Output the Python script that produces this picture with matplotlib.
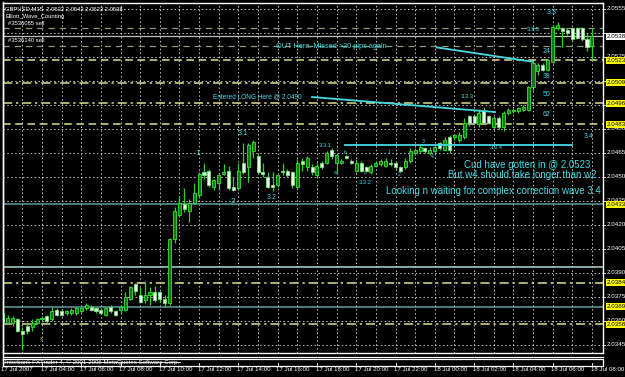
import matplotlib
matplotlib.use("Agg")
import matplotlib.pyplot as plt
from matplotlib.transforms import blended_transform_factory
import numpy as np

plt.rcParams['font.family'] = ['Liberation Sans', 'DejaVu Sans']

# ---------------- data (GBPUSD M15, 17 Jul 02:00 -> 18 Jul 08:00) ----------------
opens = [2.0365, 2.0359, 2.0359, 2.0361, 2.0354, 2.0357, 2.0356, 2.0359, 2.0361, 2.0363,
         2.0361, 2.0367, 2.0366, 2.0365, 2.0365, 2.0365, 2.0366, 2.0368, 2.0369, 2.0368,
         2.0367, 2.0364, 2.0369, 2.0366, 2.0367, 2.0367, 2.0374, 2.0383, 2.0376, 2.0373,
         2.0376, 2.0378, 2.0378, 2.0374, 2.0371, 2.0411, 2.0426, 2.0433, 2.0429, 2.0434,
         2.0439, 2.0453, 2.0454, 2.0444, 2.0446, 2.0452, 2.0454, 2.0444, 2.0443, 2.0459,
         2.0456, 2.0466, 2.0463, 2.0453, 2.0450, 2.0445, 2.0445, 2.0454, 2.0454, 2.0453,
         2.0444, 2.0460, 2.0456, 2.0456, 2.0451, 2.0459, 2.0459, 2.0467, 2.0459, 2.0459,
         2.0463, 2.0460, 2.0454, 2.0459, 2.0456, 2.0453, 2.0457, 2.0458, 2.0457, 2.0459,
         2.0459, 2.0456, 2.0456, 2.0460, 2.0465, 2.0466, 2.0468, 2.0465, 2.0466, 2.0471,
         2.0467, 2.0475, 2.0475, 2.0473, 2.0475, 2.0488, 2.0488, 2.0483, 2.0491, 2.0488,
         2.0481, 2.0487, 2.0481, 2.0490, 2.0491, 2.0491, 2.0492, 2.0492, 2.0506, 2.0516,
         2.0520, 2.0517, 2.0522, 2.0543, 2.0543, 2.0542, 2.0543, 2.0543, 2.0543, 2.0536,
         2.0532]
highs = [2.0367, 2.0364, 2.0363, 2.0362, 2.0356, 2.0358, 2.0361, 2.0362, 2.0363, 2.0364,
         2.0369, 2.0368, 2.0367, 2.0367, 2.0368, 2.0369, 2.0369, 2.0371, 2.0370, 2.0369,
         2.0368, 2.0369, 2.0370, 2.0367, 2.0370, 2.0378, 2.0382, 2.0384, 2.0381, 2.0385,
         2.0381, 2.0382, 2.0379, 2.0376, 2.0412, 2.0431, 2.0438, 2.0443, 2.0436, 2.0446,
         2.0453, 2.0459, 2.0455, 2.0449, 2.0452, 2.0458, 2.0457, 2.0450, 2.0459, 2.0471,
         2.0471, 2.0473, 2.0465, 2.0459, 2.0453, 2.0453, 2.0452, 2.0459, 2.0455, 2.0454,
         2.0461, 2.0462, 2.0463, 2.0458, 2.0459, 2.0460, 2.0466, 2.0468, 2.0465, 2.0461,
         2.0464, 2.0461, 2.0461, 2.0460, 2.0457, 2.0458, 2.0460, 2.0461, 2.0462, 2.0461,
         2.0460, 2.0457, 2.0462, 2.0468, 2.0468, 2.0470, 2.0469, 2.0469, 2.0470, 2.0472,
         2.0475, 2.0476, 2.0477, 2.0478, 2.0487, 2.0489, 2.0489, 2.0492, 2.0494, 2.0489,
         2.0488, 2.0488, 2.0491, 2.0493, 2.0493, 2.0494, 2.0495, 2.0507, 2.0522, 2.0521,
         2.0521, 2.0524, 2.0545, 2.0547, 2.0544, 2.0543, 2.0544, 2.0544, 2.0544, 2.0540,
         2.0543]
lows = [2.0357, 2.0358, 2.0357, 2.0353, 2.0342, 2.0352, 2.0354, 2.0358, 2.0360, 2.0359,
        2.0360, 2.0363, 2.0363, 2.0364, 2.0364, 2.0364, 2.0365, 2.0367, 2.0366, 2.0365,
        2.0364, 2.0363, 2.0365, 2.0363, 2.0365, 2.0366, 2.0373, 2.0376, 2.0371, 2.0371,
        2.0370, 2.0372, 2.0372, 2.0369, 2.0370, 2.0409, 2.0425, 2.0428, 2.0422, 2.0433,
        2.0437, 2.0449, 2.0444, 2.0442, 2.0442, 2.0451, 2.0442, 2.0441, 2.0442, 2.0452,
        2.0447, 2.0462, 2.0452, 2.0450, 2.0443, 2.0441, 2.0444, 2.0451, 2.0450, 2.0443,
        2.0443, 2.0454, 2.0454, 2.0451, 2.0450, 2.0455, 2.0458, 2.0461, 2.0453, 2.0458,
        2.0461, 2.0458, 2.0453, 2.0453, 2.0453, 2.0452, 2.0456, 2.0457, 2.0456, 2.0457,
        2.0455, 2.0453, 2.0455, 2.0459, 2.0464, 2.0465, 2.0465, 2.0464, 2.0465, 2.0467,
        2.0466, 2.0465, 2.0473, 2.0472, 2.0474, 2.0482, 2.0483, 2.0481, 2.0483, 2.0483,
        2.0480, 2.0480, 2.0479, 2.0489, 2.0490, 2.0490, 2.0491, 2.0491, 2.0504, 2.0514,
        2.0516, 2.0516, 2.0521, 2.0542, 2.0531, 2.0539, 2.0535, 2.0536, 2.0535, 2.0529,
        2.0523]
closes = [2.0359, 2.0362, 2.0362, 2.0354, 2.0352, 2.0354, 2.0359, 2.0361, 2.0362, 2.0360,
          2.0366, 2.0364, 2.0364, 2.0366, 2.0367, 2.0368, 2.0368, 2.0370, 2.0367, 2.0366,
          2.0365, 2.0368, 2.0366, 2.0364, 2.0369, 2.0375, 2.0381, 2.0379, 2.0372, 2.0376,
          2.0378, 2.0373, 2.0374, 2.0371, 2.0411, 2.0429, 2.0434, 2.0430, 2.0434, 2.0440,
          2.0452, 2.0451, 2.0445, 2.0448, 2.0451, 2.0453, 2.0443, 2.0442, 2.0454, 2.0453,
          2.0470, 2.0472, 2.0453, 2.0452, 2.0444, 2.0444, 2.0451, 2.0453, 2.0451, 2.0445,
          2.0459, 2.0458, 2.0462, 2.0453, 2.0457, 2.0456, 2.0465, 2.0463, 2.0464, 2.0460,
          2.0462, 2.0459, 2.0459, 2.0454, 2.0454, 2.0457, 2.0459, 2.0460, 2.0460, 2.0458,
          2.0456, 2.0454, 2.0460, 2.0466, 2.0467, 2.0469, 2.0466, 2.0467, 2.0469, 2.0468,
          2.0473, 2.0467, 2.0476, 2.0476, 2.0484, 2.0484, 2.0484, 2.0490, 2.0484, 2.0484,
          2.0487, 2.0481, 2.0490, 2.0492, 2.0492, 2.0493, 2.0494, 2.0506, 2.0521, 2.0520,
          2.0517, 2.0523, 2.0544, 2.0545, 2.0541, 2.0540, 2.0536, 2.0537, 2.0536, 2.0531,
          2.0538]

time_labels = ["17 Jul 2007", "17 Jul 04:00", "17 Jul 06:00", "17 Jul 08:00", "17 Jul 10:00",
               "17 Jul 12:00", "17 Jul 14:00", "17 Jul 16:00", "17 Jul 18:00", "17 Jul 20:00",
               "17 Jul 22:00", "18 Jul 00:00", "18 Jul 02:00", "18 Jul 04:00", "18 Jul 06:00",
               "18 Jul 08:00"]
price_ticks = [2.0345, 2.0360, 2.0375, 2.0390, 2.0405, 2.0420, 2.0435, 2.0450, 2.0465,
               2.0480, 2.0495, 2.0510, 2.0525, 2.0540, 2.0555]
# tick labels that are fully covered by a level box in the reference are not printed
hidden_ticks = [2.0495, 2.0510, 2.0540]

level_prices = [2.0523, 2.0509, 2.0496, 2.0483, 2.0433, 2.0394, 2.0384, 2.0369, 2.0358]
level_labels = ["2.0523", "2.0509", "2.0496", "2.0483", "2.0433", "", "2.0384", "2.0369", "2.0358"]
order_prices = [2.0543, 2.0532]
order_labels = ["#3536085 sell", "#3536140 sell"]
bid_price = 2.0538

# ---------------- figure ----------------
W, H = 625, 377
fig = plt.figure(figsize=(W / 100, H / 100), dpi=100, facecolor='black')
# main window: x 3..603 px, y 3..353 px (from top)
ax = fig.add_axes([3 / W, 24 / H, 600 / W, 350 / H], facecolor='black')
ax.set_xlim(0.06, 122.26)
ax.set_ylim(2.0345 - 8 / 16000, 2.0345 + 342 / 16000)
for s in ax.spines.values():
    s.set_color('white')
    s.set_linewidth(1.0)
ax.tick_params(left=False, bottom=False, labelleft=False, labelbottom=False)

n = len(opens)
idx = np.arange(n)
o = np.array(opens); c = np.array(closes); h = np.array(highs); l = np.array(lows)

# grid
for p in price_ticks:
    ax.axhline(p, color='#c4c4c4', lw=0.7, ls=(0, (1.5, 2.5)), zorder=1)
for i in range(0, 124, 4):
    ax.axvline(i, color='#c4c4c4', lw=0.7, ls=(0, (1.5, 2.5)), zorder=1)

# level lines
lvl_styles = ['dashed', 'dashdot', 'dashdot', 'dashed', 'solid', 'solid', 'dashdot', 'solid', 'dashdot']
lvl_colors = ['#dede90', '#dede90', '#dede90', '#dede90', '#5f9e9e', '#a8d6d6', '#dede90', '#5f9e9e', '#dede90']
for p, st, col in zip(level_prices, lvl_styles, lvl_colors):
    if st == 'dashed':
        ls = (0, (5, 3))
    elif st == 'dashdot':
        ls = (0, (6, 2.5, 1.5, 2.5))
    else:
        ls = '-'
    ax.axhline(p, color=col, lw=1.1, ls=ls, zorder=2)

for p in order_prices:
    ax.axhline(p, color='#8a9a7a', lw=0.9, ls=(0, (5, 4)), zorder=2)
ax.axhline(bid_price, color='#bdbdbd', lw=0.9, zorder=2)

# candles
up = c >= o
ax.vlines(idx, l, h, color='#2ad22a', lw=0.9, zorder=4)
body_lo = np.minimum(o, c)
body_h = np.maximum(np.abs(c - o), 0.00006)
ax.bar(idx[up], body_h[up], bottom=body_lo[up], width=0.62, color='#137a13',
       edgecolor='#35e035', linewidth=0.6, zorder=5)
ax.bar(idx[~up], body_h[~up], bottom=body_lo[~up], width=0.62, color='#eaffea',
       edgecolor='#7be07b', linewidth=0.6, zorder=5)

# cyan trend lines / annotations
cy = '#45dbe4'
ax.plot([88.4, 108.0], [2.0531, 2.0522], color=cy, lw=1.3, zorder=6)
ax.plot([63.0, 100.3], [2.0500, 2.04906], color=cy, lw=1.3, zorder=6)
ax.plot([69.7, 115.9], [2.0470, 2.0470], color=cy, lw=1.3, zorder=6)

ax.text(55.7, 2.05313, "OUT Here. Missed >20 pips again", color=cy, fontsize=5.3,
        ha='left', va='center', zorder=7)
ax.text(42.8, 2.0500, "Entered LONG Here @ 2.0490", color=cy, fontsize=4.7,
        ha='left', va='center', zorder=7)

wave_labels = [
    ("3.3", 111.9, 2.05531, 5.2), ("3.3.5", 108.0, 2.05419, 4.2),
    ("24", 110.7, 2.05283, 5.0), ("38", 110.8, 2.05127, 5.0),
    ("50", 110.8, 2.05013, 5.0), ("62", 110.8, 2.04888, 5.0),
    ("3.4", 119.4, 2.04752, 5.0), ("3.3.3", 94.7, 2.05002, 4.2),
    ("3.3.4", 100.6, 2.04683, 4.2), ("3.1", 48.9, 2.04769, 5.2),
    ("1", 39.8, 2.04648, 6.0), ("2", 46.8, 2.04346, 6.0),
    ("3.2", 54.8, 2.04373, 5.0), ("3.3.1", 65.8, 2.04694, 4.2),
    ("3.3.2", 73.8, 2.04464, 4.2),
    ("a", 67.7, 2.04525, 3.8), ("b", 69.7, 2.04650, 3.8), ("c", 73.8, 2.04525, 3.8),
    ("1", 78.7, 2.04655, 3.8), ("2", 80.7, 2.04515, 3.8), ("3", 85.6, 2.04720, 3.8),
    ("4", 87.6, 2.04630, 3.8),
]
for t, x, y, fs in wave_labels:
    ax.text(x, y, t, color=cy, fontsize=fs, ha='center', va='center', zorder=7)

ax.text(106.9, 2.04575, "Cud have gotten in @ 2.0523", color=cy, fontsize=7.0,
        ha='center', va='center', zorder=7)
ax.text(105.9, 2.04513, "But w4 should take longer than w2", color=cy, fontsize=7.0,
        ha='center', va='center', zorder=7)
ax.text(99.9, 2.04413, "Looking n waiting for complex correction wave 3.4", color=cy,
        fontsize=7.0, ha='center', va='center', zorder=7)

ax.text(7.8, 2.03488, "x", color='#e0c030', fontsize=4.5, ha='center', va='center', zorder=7)

# header texts
ax.text(0.004, 0.992, "GBPUSD,M15  2.0532 2.0543 2.0523 2.0538", transform=ax.transAxes,
        color='white', fontsize=4.2, ha='left', va='top', zorder=8)
ax.text(0.004, 0.968, "Elliott_Wave_Counting", transform=ax.transAxes,
        color='white', fontsize=4.2, ha='left', va='top', zorder=8)
for p, t in zip(order_prices, order_labels):
    ax.text(1.0, p + 0.00030, t, color='white', fontsize=4.2, ha='left', va='center', zorder=8)

# right price axis
tr = blended_transform_factory(ax.transAxes, ax.transData)
for p in price_ticks:
    ax.plot([1.0, 1.004], [p, p], transform=tr, color='white', lw=0.6, clip_on=False)
    if p in hidden_ticks:
        continue
    ax.text(1.006, p, "%.4f" % p, transform=tr, color='white', fontsize=4.5,
            ha='left', va='center', clip_on=False, zorder=9)
for p, t in zip(level_prices, level_labels):
    if t:
        ax.text(1.006, p, t, transform=tr, color='black', fontsize=4.5, ha='left', va='center',
                clip_on=False, zorder=10,
                bbox=dict(boxstyle='square,pad=0.15', fc='#ffff00', ec='none'))
ax.text(1.006, bid_price, "%.4f" % bid_price, transform=tr, color='black', fontsize=4.5,
        ha='left', va='center', clip_on=False, zorder=10,
        bbox=dict(boxstyle='square,pad=0.15', fc='white', ec='none'))

# time axis labels
trx = blended_transform_factory(ax.transData, ax.transAxes)
for k, t in enumerate(time_labels):
    xi = k * 8
    ax.text(xi - 0.25, -0.046, t, transform=trx, color='white', fontsize=4.4,
            ha='left', va='center', clip_on=False)
    ax.plot([xi, xi], [-0.036, -0.029], transform=trx, color='white', lw=0.6, clip_on=False)

# bottom sub-window strip
ov = fig.add_axes([0, 0, 1, 1], facecolor='none')
ov.set_xlim(0, W)
ov.set_ylim(H, 0)
ov.axis('off')
ov.plot([3, 603], [356.5, 356.5], color='white', lw=0.9)
ov.plot([3, 603, 603, 3, 3], [359.0, 359.0, 365.5, 365.5, 359.0], color='white', lw=0.9)
ov.plot([3, 3], [2, 366], color='white', lw=1.0)
ov.text(5, 362.0, "Interbank FXTrader 4, \u00a9 2001-2006 MetaQuotes Software Corp.",
        color='white', fontsize=4.4, ha='left', va='center')
ov.plot([3, 180], [362.3, 362.3], color='white', lw=0.6)

fig.savefig("out.png", dpi=100, facecolor='black')
